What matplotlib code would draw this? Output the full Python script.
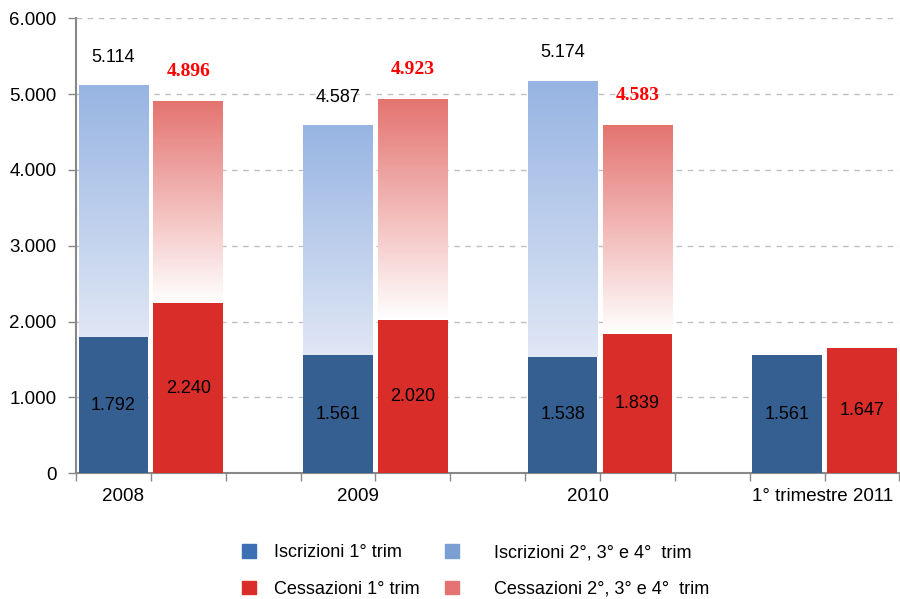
import numpy as np
import matplotlib.pyplot as plt
from matplotlib.patches import Patch
from matplotlib.ticker import FuncFormatter
from matplotlib.colors import to_rgb

plt.rcParams['font.family'] = ['Liberation Sans', 'DejaVu Sans']

# data
categories = ['2008', '2009', '2010', '1° trimestre 2011']
iscr_q1 = [1792, 1561, 1538, 1561]
iscr_tot = [5114, 4587, 5174, None]
cess_q1 = [2240, 2020, 1839, 1647]
cess_tot = [4896, 4923, 4583, None]

blue_dark = '#365f91'
red_dark = '#d92d29'
blue_top, blue_bot = '#97b4e2', '#e0e7f5'
red_top, red_bot = '#e47470', '#ffffff'


def fmt(v):
    return f'{v:,.0f}'.replace(',', '.')


def gradient_bar(ax, x, y0, y1, width, c_top, c_bot, power=1.0):
    t = np.linspace(0, 1, 256) ** power  # 0 at bottom, 1 at top
    top = np.array(to_rgb(c_top))
    bot = np.array(to_rgb(c_bot))
    img = bot + (top - bot) * t[:, None]
    img = img[:, None, :]
    ax.imshow(img, extent=[x - width / 2, x + width / 2, y0, y1],
              origin='lower', aspect='auto', zorder=2, interpolation='nearest')


fig = plt.figure(figsize=(9, 5.99), dpi=100)
ax = fig.add_axes([0.0844, 0.21, 0.915, 0.7596])

w = 0.93
for i, cat in enumerate(categories):
    xb = 3 * i
    xr = 3 * i + 1
    ax.bar(xb, iscr_q1[i], w, color=blue_dark, zorder=3)
    ax.bar(xr, cess_q1[i], w, color=red_dark, zorder=3)
    ax.text(xb, iscr_q1[i] / 2, fmt(iscr_q1[i]), ha='center', va='center',
            fontsize=13, zorder=5)
    ax.text(xr, cess_q1[i] / 2, fmt(cess_q1[i]), ha='center', va='center',
            fontsize=13, zorder=5)
    if iscr_tot[i] is not None:
        gradient_bar(ax, xb, iscr_q1[i], iscr_tot[i], w, blue_top, blue_bot)
        ax.text(xb, iscr_tot[i] + 370, fmt(iscr_tot[i]), ha='center',
                va='center', fontsize=13, zorder=5)
    if cess_tot[i] is not None:
        gradient_bar(ax, xr, cess_q1[i], cess_tot[i], w, red_top, red_bot,
                     power=1.0)
        ax.text(xr, cess_tot[i] + 400, fmt(cess_tot[i]), ha='center',
                va='center', fontsize=14, fontweight='bold', color='#ff0000',
                family=['Liberation Serif', 'DejaVu Serif'], zorder=5)

ax.set_xlim(-0.5, 10.5)
ax.set_ylim(0, 6000)
ax.set_yticks(np.arange(0, 6001, 1000))
ax.yaxis.set_major_formatter(FuncFormatter(lambda v, p: fmt(v)))
ax.yaxis.grid(True, linestyle=(0, (4, 4)), color='#bfbfbf', linewidth=1, zorder=0)
ax.set_axisbelow(True)

# category boundaries as ticks, labels as minor ticks
ax.set_xticks(np.arange(-0.5, 10.6, 1))
ax.set_xticklabels([])
ax.set_xticks([0.13, 3.27, 6.34, 9.47], minor=True)
ax.set_xticklabels(categories, minor=True)
ax.tick_params(axis='x', which='minor', length=0, pad=11, labelsize=13.5)
ax.tick_params(axis='x', which='major', length=6, color='#888888', width=1)
ax.tick_params(axis='y', length=6, color='#888888', width=1, labelsize=13.5,
               pad=8)

for s in ['top', 'right']:
    ax.spines[s].set_visible(False)
ax.spines['left'].set_color('#888888')
ax.spines['bottom'].set_color('#888888')
ax.spines['left'].set_linewidth(1.5)
ax.spines['bottom'].set_linewidth(1.5)

# legend: two single-column blocks
leg_kw = dict(loc='center left', frameon=False, fontsize=13, borderpad=0,
              borderaxespad=0, handlelength=0.78, handleheight=0.78,
              labelspacing=1.08)
leg1 = fig.legend([Patch(color='#3d6fb5'), Patch(color=red_dark)],
                  ['Iscrizioni 1° trim', 'Cessazioni 1° trim'],
                  bbox_to_anchor=(0.269, 0.047), handletextpad=1.0, **leg_kw)
leg2 = fig.legend([Patch(color='#7b9fd2'), Patch(color='#e57373')],
                  ['Iscrizioni 2°, 3° e 4°  trim', 'Cessazioni 2°, 3° e 4°  trim'],
                  bbox_to_anchor=(0.494, 0.047), handletextpad=1.94, **leg_kw)

fig.savefig('out.png', dpi=100)
